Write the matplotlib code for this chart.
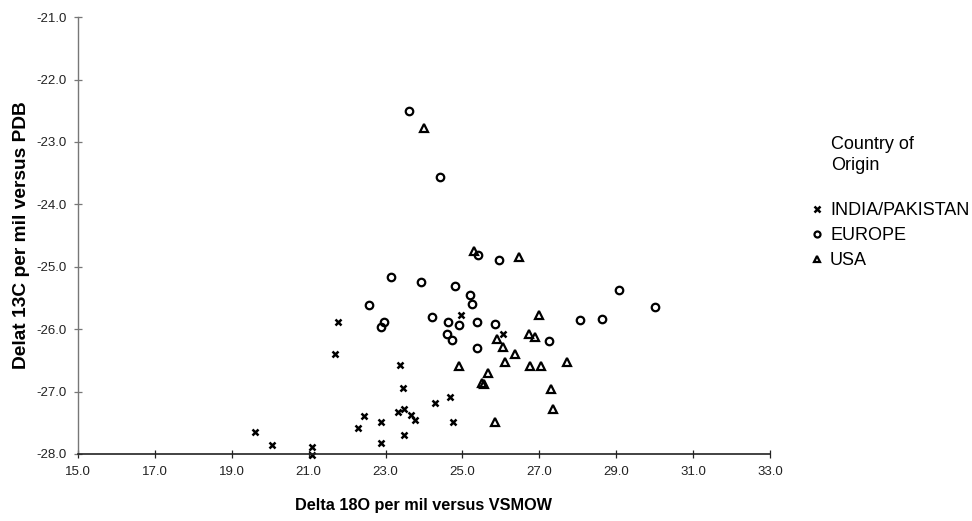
import matplotlib
matplotlib.use("Agg")
import numpy as np
import matplotlib.pyplot as plt
from matplotlib.ticker import FormatStrFormatter

plt.rcParams["font.family"] = ["Liberation Sans", "DejaVu Sans"]

# Delta 18O (x) and Delta 13C (y)
india_x = [19.60, 20.05, 21.08, 21.08, 21.68, 21.77, 22.29, 22.44, 22.89, 22.89,
           23.33, 23.37, 23.46, 23.48, 23.49, 23.67, 23.77, 24.29, 24.67, 24.75,
           24.97, 26.06]
india_y = [-27.65, -27.86, -27.89, -28.02, -26.39, -25.89, -27.59, -27.39, -27.48, -27.82,
           -27.33, -26.58, -26.94, -27.28, -27.69, -27.37, -27.45, -27.19, -27.09, -27.48,
           -25.78, -26.08]

europe_x = [22.57, 22.96, 22.88, 23.13, 23.61, 23.91, 24.22, 24.42, 24.59, 24.62,
            24.74, 24.80, 24.91, 25.19, 25.24, 25.39, 25.39, 25.40, 25.84, 25.95,
            27.26, 28.07, 28.63, 29.06, 30.01]
europe_y = [-25.62, -25.89, -25.97, -25.16, -22.51, -25.24, -25.81, -23.57, -26.08, -25.88,
            -26.18, -25.31, -25.93, -25.46, -25.59, -25.89, -26.30, -24.81, -25.91, -24.89,
            -26.19, -25.86, -25.84, -25.38, -25.65]

usa_x = [24.01, 24.91, 25.30, 25.51, 25.56, 25.67, 25.86, 25.91, 26.06, 26.12,
         26.36, 26.47, 26.74, 26.75, 26.90, 27.00, 27.05, 27.30, 27.36, 27.72]
usa_y = [-22.77, -26.59, -24.74, -26.87, -26.88, -26.70, -27.48, -26.15, -26.29, -26.53,
         -26.39, -24.84, -26.08, -26.59, -26.12, -25.77, -26.59, -26.96, -27.28, -26.53]

series = ["INDIA/PAKISTAN", "EUROPE", "USA"]
x_ticks = np.arange(15, 34, 2)
y_ticks = np.arange(-28, -20, 1)

fig = plt.figure(figsize=(9.72, 5.21), dpi=100)
ax = fig.add_axes([0.0802, 0.1286, 0.712, 0.8386])

ax.plot(india_x, india_y, linestyle="none", marker="x", markersize=4.8,
        markeredgewidth=1.8, color="black", label=series[0], clip_on=False)
ax.plot(europe_x, europe_y, linestyle="none", marker="o", markersize=5.4,
        markeredgewidth=1.6, markerfacecolor="none", color="black", label=series[1])
ax.plot(usa_x, usa_y, linestyle="none", marker="^", markersize=5.6,
        markeredgewidth=1.6, markerfacecolor="none", color="black", label=series[2])

ax.set_xlim(15, 33)
ax.set_ylim(-28, -21)
ax.set_xticks(x_ticks)
ax.set_yticks(y_ticks)
ax.xaxis.set_major_formatter(FormatStrFormatter("%.1f"))
ax.yaxis.set_major_formatter(FormatStrFormatter("%.1f"))

for side in ["top", "right"]:
    ax.spines[side].set_visible(False)
ax.spines["left"].set_color("#777777")
ax.spines["bottom"].set_color("#222222")
ax.spines["left"].set_linewidth(1.0)
ax.spines["bottom"].set_linewidth(1.2)

ax.tick_params(axis="both", direction="inout", length=6, width=0.9,
               labelsize=9.5, labelcolor="#222222", pad=5)
ax.tick_params(axis="y", color="#777777")
ax.tick_params(axis="x", color="#222222", pad=6)

ax.set_xlabel("Delta 18O per mil versus VSMOW", fontsize=11.7, fontweight="bold", labelpad=14)
ax.set_ylabel("Delat 13C per mil versus PDB", fontsize=13.8, fontweight="bold", labelpad=5)

fig.text(831 / 972, 1 - 155 / 521, "Country of\nOrigin", fontsize=13,
         ha="left", va="center", linespacing=1.35)

fig.legend(loc="upper left", bbox_to_anchor=(812 / 972, 1 - 202 / 521),
           frameon=False, fontsize=13, handlelength=0.6, handletextpad=0.4,
           labelspacing=0.45, borderpad=0, borderaxespad=0, markerscale=0.8)

fig.savefig("out.png", dpi=100)
